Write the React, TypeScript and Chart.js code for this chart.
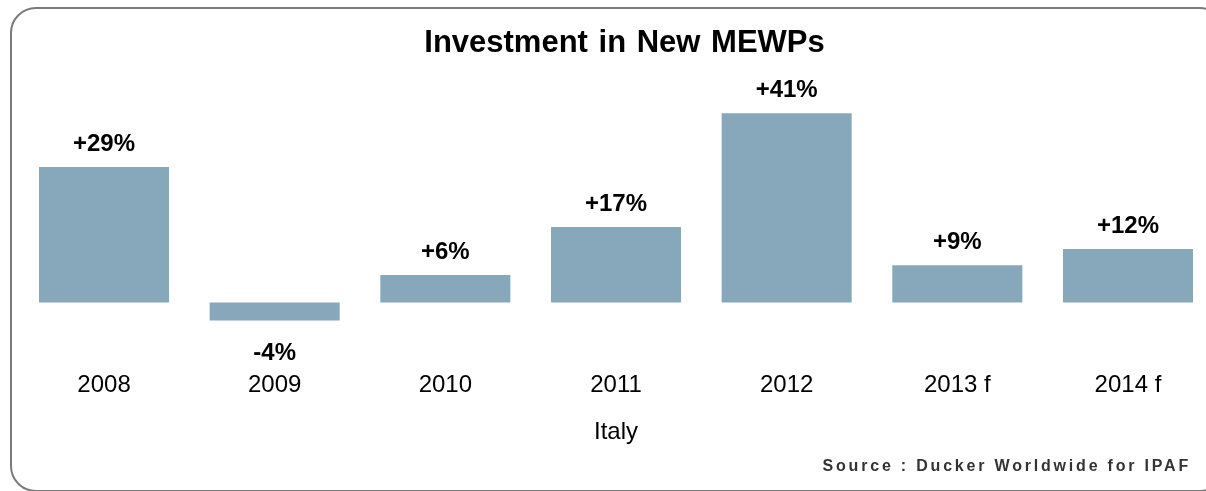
import React, { useEffect, useRef } from 'react';
import { Chart, registerables } from 'chart.js';

Chart.register(...registerables);

const categories = ['2008', '2009', '2010', '2011', '2012', '2013 f', '2014 f'];
const growth = [29.4, -3.9, 6.0, 16.4, 41, 8.1, 11.6];
const valueLabels = ['+29%', '-4%', '+6%', '+17%', '+41%', '+9%', '+12%'];
const chartTitle = 'Investment in New MEWPs';
const axisTitle = 'Italy';
const sourceNote = 'Source : Ducker Worldwide for IPAF';

const FONT = '"Liberation Sans", Arial, Helvetica, sans-serif';
const BAR_COLOR = '#87a7ba';

const overlayPlugin = {
  id: 'overlayText',
  afterDatasetsDraw(chart: any) {
    const ctx = chart.ctx as CanvasRenderingContext2D;
    const area = chart.chartArea;
    const meta = chart.getDatasetMeta(0);
    ctx.save();
    ctx.fillStyle = '#000000';
    ctx.textAlign = 'center';
    ctx.textBaseline = 'alphabetic';
    ctx.font = `bold 24px ${FONT}`;
    meta.data.forEach((bar: any, i: number) => {
      const { x, y } = bar.getProps(['x', 'y'], true);
      if (growth[i] >= 0) ctx.fillText(valueLabels[i], x, y - 16);
      else ctx.fillText(valueLabels[i], x, y + 39);
    });
    ctx.font = `bold 31px ${FONT}`;
    (ctx as any).wordSpacing = '2px';
    ctx.fillText(chartTitle, (area.left + area.right) / 2 + 8.5, 52);
    (ctx as any).wordSpacing = '0px';
    ctx.font = `bold 16px ${FONT}`;
    (ctx as any).letterSpacing = '2.8px';
    ctx.fillStyle = '#333333';
    ctx.textAlign = 'right';
    ctx.fillText(sourceNote, 1191, 471);
    ctx.restore();
  },
};

export default function App() {
  const canvasRef = useRef<HTMLCanvasElement | null>(null);

  useEffect(() => {
    const canvas = canvasRef.current;
    if (!canvas) return;
    const chart = new Chart(canvas, {
      type: 'bar',
      data: {
        labels: categories,
        datasets: [
          {
            data: growth,
            backgroundColor: BAR_COLOR,
            borderWidth: 0,
            categoryPercentage: 1,
            barPercentage: 0.762,
          },
        ],
      },
      options: {
        responsive: false,
        animation: false,
        devicePixelRatio: 1,
        layout: { padding: { left: 18.7, right: 16.7, top: 81, bottom: 40 } },
        plugins: {
          legend: { display: false },
          title: { display: false },
          tooltip: { enabled: false },
        },
        scales: {
          x: {
            grid: { display: false, drawTicks: false },
            border: { display: false },
            ticks: {
              color: '#000000',
              font: { family: FONT, size: 24 },
              padding: 18,
            },
            title: {
              display: true,
              text: axisTitle,
              color: '#000000',
              font: { family: FONT, size: 24 },
              padding: { top: 0, bottom: 4 },
            },
          },
          y: {
            display: false,
            min: -11,
            max: 48,
          },
        },
      },
      plugins: [overlayPlugin],
    });
    return () => chart.destroy();
  }, []);

  return (
    <div
      style={{
        position: 'fixed',
        left: 0,
        top: 0,
        width: 1206,
        height: 491,
        overflow: 'hidden',
        background: '#ffffff',
      }}
    >
      <div
        style={{
          position: 'absolute',
          left: 10,
          top: 7,
          width: 1216,
          height: 485,
          boxSizing: 'border-box',
          border: '2px solid #7a7a7a',
          borderRadius: 26,
        }}
      />
      <canvas
        ref={canvasRef}
        width={1230}
        height={491}
        style={{ position: 'absolute', left: 0, top: 0, display: 'block' }}
      />
    </div>
  );
}
